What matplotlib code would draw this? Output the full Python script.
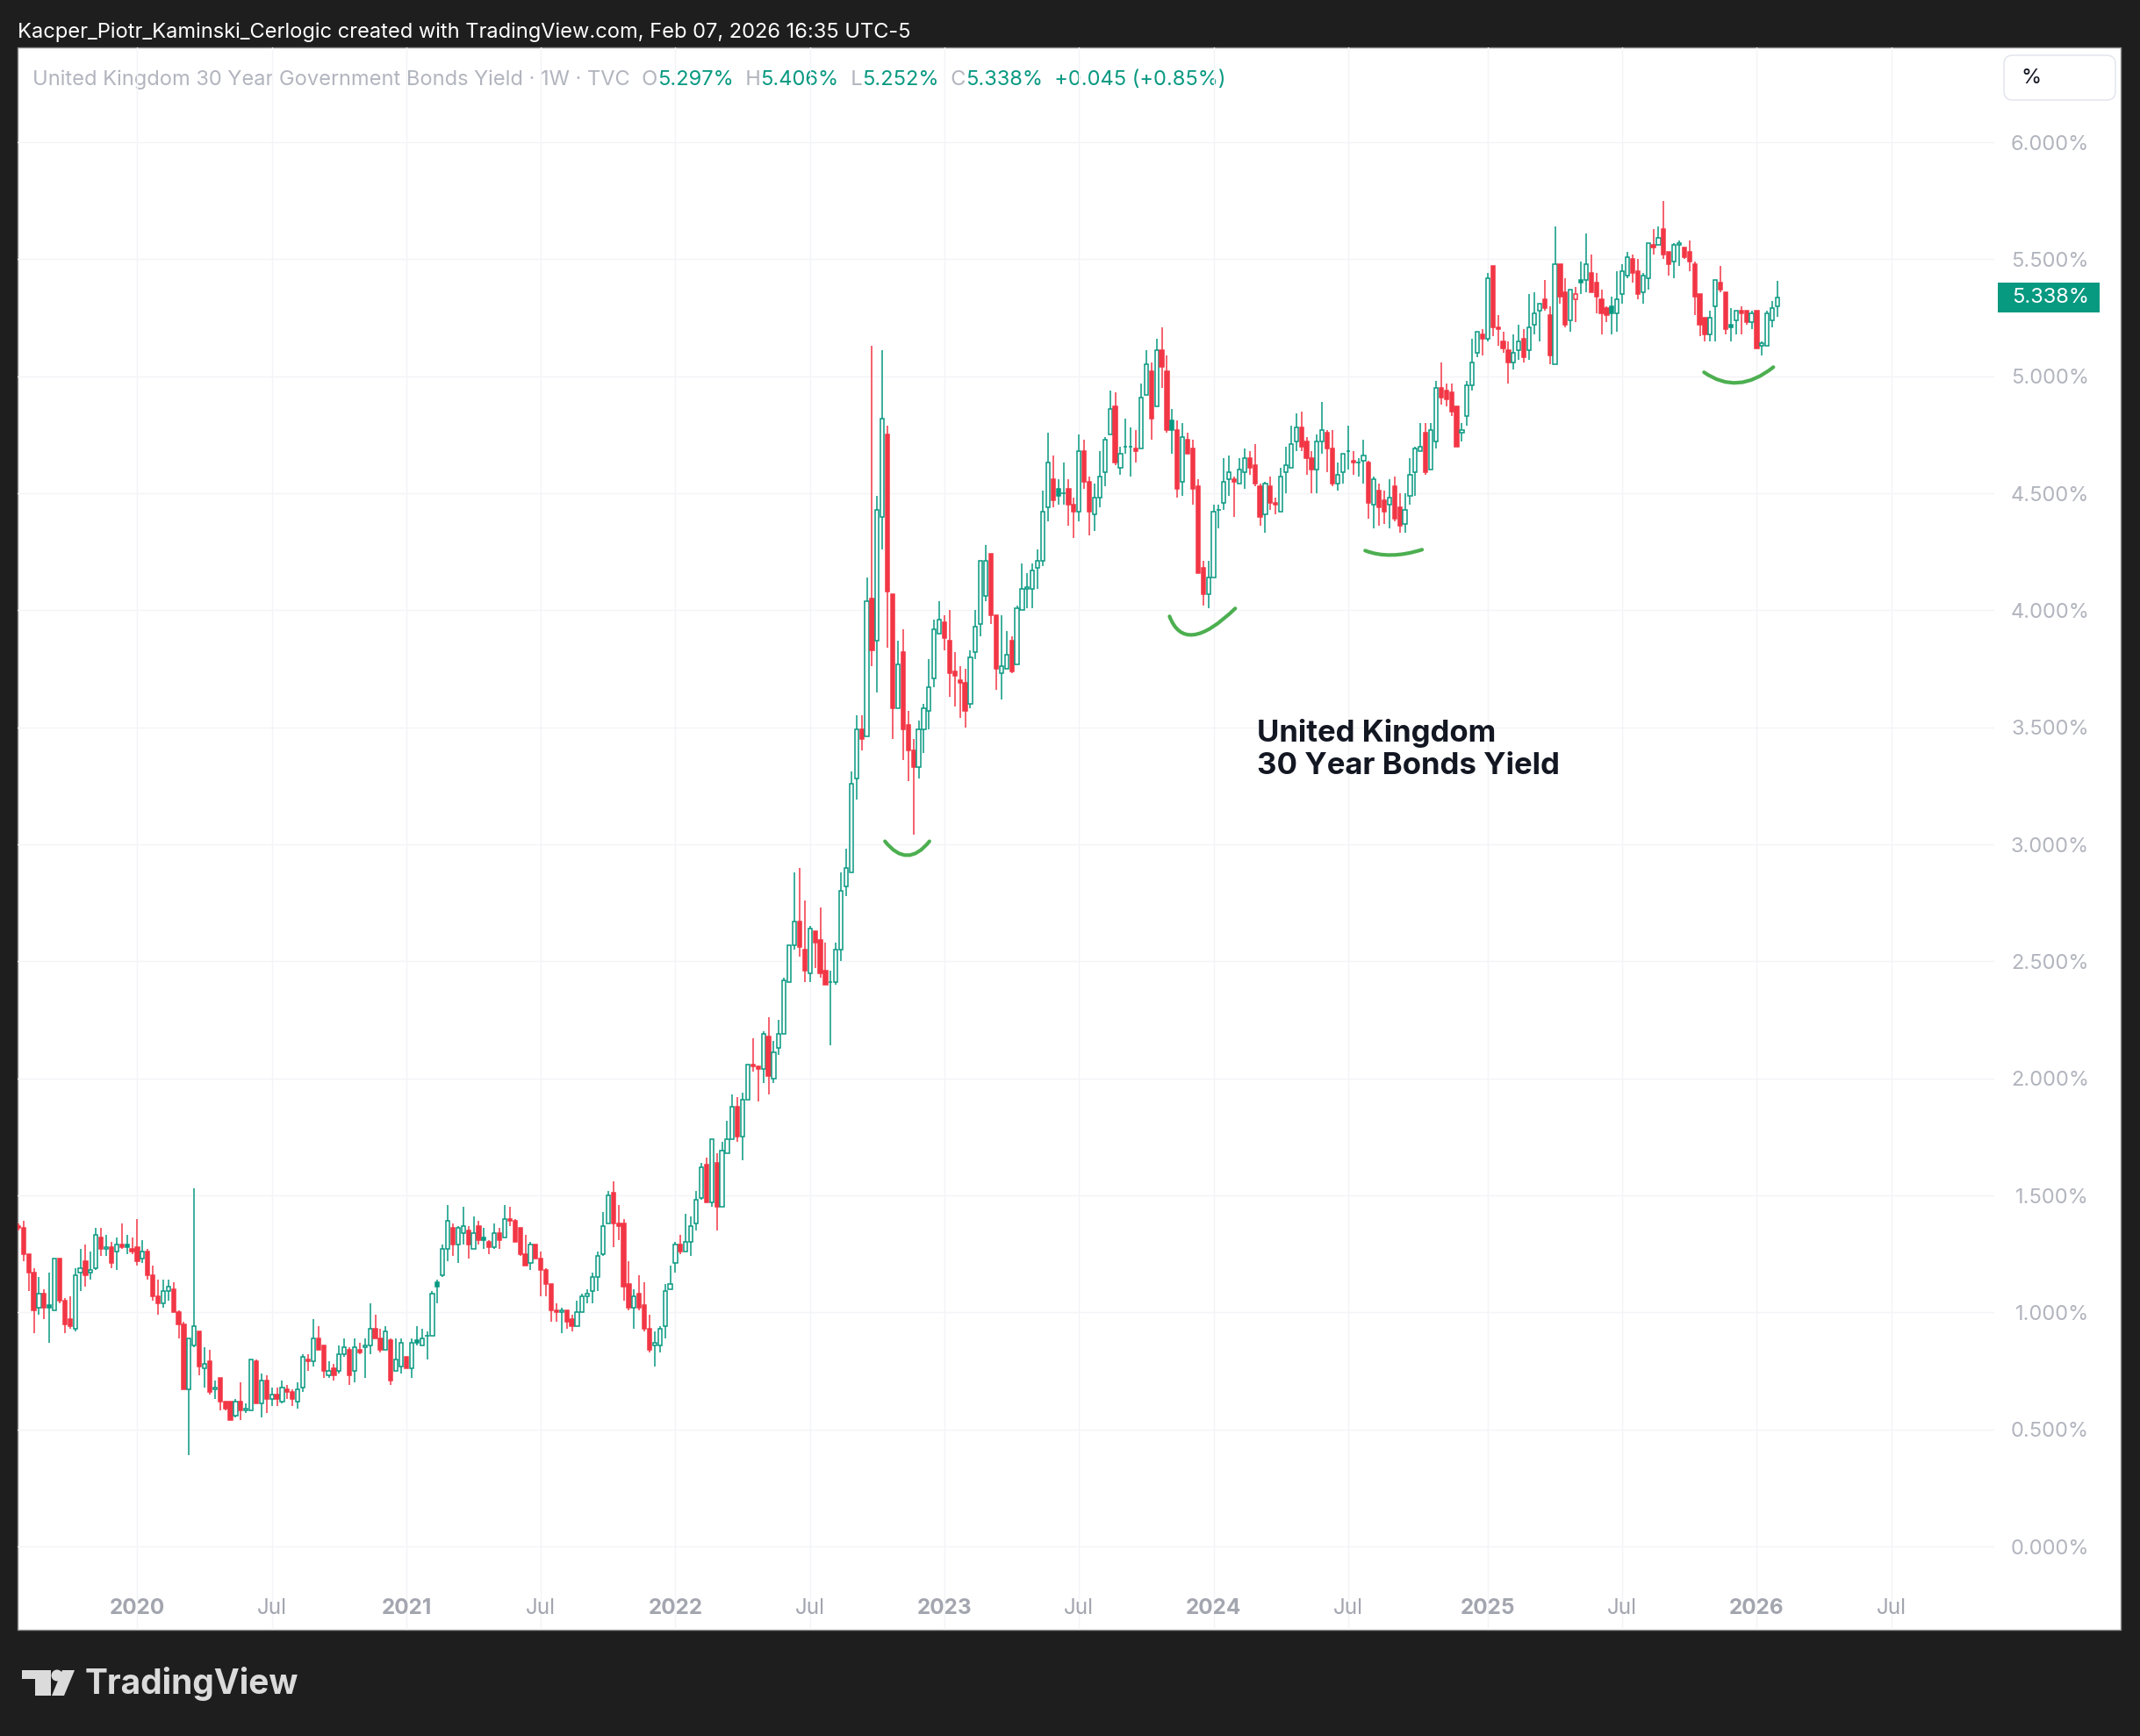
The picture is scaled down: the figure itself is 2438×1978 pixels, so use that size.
import matplotlib
matplotlib.use("Agg")
import matplotlib.pyplot as plt
import matplotlib.dates as mdates
from matplotlib.patches import Rectangle, FancyBboxPatch, Circle, Polygon, PathPatch
from matplotlib.path import Path
import numpy as np

plt.rcParams['font.family'] = ['Inter', 'DejaVu Sans']

# weekly candles, UK 30Y gilt yield (%), first bar = week of 2019-07-29
first_week = "2019-07-29"

opens = [
    1.37, 1.36, 1.25, 1.17, 1.02, 1.08, 1.03, 1.01, 1.23, 1.05,
    0.97, 0.93, 1.17, 1.22, 1.17, 1.19, 1.32, 1.27, 1.28, 1.26,
    1.29, 1.29, 1.27, 1.28, 1.23, 1.26, 1.16, 1.07, 1.04, 1.09,
    1.10, 1.00, 0.95, 0.67, 0.86, 0.92, 0.76, 0.79, 0.67, 0.72,
    0.62, 0.62, 0.56, 0.62, 0.58, 0.58, 0.79, 0.61, 0.71, 0.63,
    0.65, 0.62, 0.67, 0.66, 0.62, 0.68, 0.80, 0.79, 0.89, 0.86,
    0.73, 0.76, 0.75, 0.82, 0.84, 0.75, 0.84, 0.85, 0.86, 0.93,
    0.89, 0.84, 0.88, 0.75, 0.77, 0.81, 0.76, 0.88, 0.86, 0.90,
    0.90, 1.13, 1.16, 1.27, 1.36, 1.29, 1.34, 1.35, 1.27, 1.37,
    1.32, 1.30, 1.28, 1.34, 1.32, 1.40, 1.39, 1.36, 1.25, 1.21,
    1.29, 1.23, 1.18, 1.12, 1.01, 1.00, 1.01, 0.97, 0.94, 1.00,
    1.07, 1.09, 1.15, 1.25, 1.38, 1.51, 1.38, 1.38, 1.12, 1.02,
    1.08, 1.03, 0.93, 0.86, 0.86, 0.94, 1.10, 1.21, 1.29, 1.26,
    1.30, 1.38, 1.49, 1.63, 1.47, 1.64, 1.45, 1.68, 1.74, 1.88,
    1.75, 1.91, 2.06, 2.05, 2.04, 2.18, 2.00, 2.13, 2.19, 2.41,
    2.57, 2.67, 2.55, 2.45, 2.63, 2.59, 2.46, 2.41, 2.41, 2.55,
    2.82, 2.88, 3.28, 3.49, 3.46, 4.05, 3.87, 4.40, 4.75, 4.07,
    3.58, 3.82, 3.51, 3.40, 3.33, 3.49, 3.57, 3.71, 3.90, 3.95,
    3.87, 3.74, 3.70, 3.69, 3.60, 3.82, 3.94, 4.06, 4.24, 3.98,
    3.73, 3.75, 3.87, 3.77, 4.00, 4.09, 4.09, 4.18, 4.21, 4.44,
    4.56, 4.52, 4.50, 4.52, 4.45, 4.42, 4.68, 4.55, 4.41, 4.48,
    4.59, 4.75, 4.87, 4.61, 4.70, 4.70, 4.69, 4.69, 4.92, 5.02,
    4.87, 5.11, 5.02, 4.81, 4.77, 4.55, 4.73, 4.69, 4.53, 4.18,
    4.07, 4.14, 4.43, 4.46, 4.56, 4.56, 4.54, 4.59, 4.65, 4.62,
    4.53, 4.41, 4.53, 4.46, 4.42, 4.59, 4.61, 4.72, 4.78, 4.72,
    4.65, 4.60, 4.72, 4.76, 4.69, 4.54, 4.59, 4.68, 4.64, 4.63,
    4.64, 4.63, 4.45, 4.51, 4.47, 4.45, 4.53, 4.44, 4.37, 4.49,
    4.59, 4.68, 4.76, 4.60, 4.72, 4.95, 4.94, 4.93, 4.87, 4.76,
    4.83, 4.96, 5.10, 5.18, 5.16, 5.47, 5.21, 5.15, 5.11, 5.06,
    5.11, 5.16, 5.11, 5.22, 5.28, 5.33, 5.26, 5.05, 5.48, 5.36,
    5.24, 5.33, 5.41, 5.41, 5.44, 5.40, 5.33, 5.29, 5.30, 5.27,
    5.35, 5.43, 5.50, 5.45, 5.36, 5.42, 5.56, 5.56, 5.63, 5.53,
    5.49, 5.56, 5.55, 5.53, 5.48, 5.35, 5.25, 5.18, 5.30, 5.40,
    5.36, 5.22, 5.24, 5.28, 5.28, 5.23, 5.28, 5.13, 5.13, 5.24,
    5.297,
]
highs = [
    1.38, 1.39, 1.25, 1.19, 1.15, 1.10, 1.17, 1.23, 1.23, 1.06,
    1.07, 1.19, 1.27, 1.29, 1.26, 1.36, 1.36, 1.33, 1.30, 1.32,
    1.38, 1.33, 1.32, 1.40, 1.31, 1.27, 1.20, 1.14, 1.14, 1.14,
    1.13, 1.01, 0.96, 0.89, 1.53, 0.92, 0.85, 0.84, 0.71, 0.72,
    0.62, 0.62, 0.63, 0.70, 0.61, 0.80, 0.80, 0.74, 0.73, 0.68,
    0.68, 0.71, 0.69, 0.67, 0.70, 0.82, 0.82, 0.97, 0.94, 0.86,
    0.79, 0.78, 0.86, 0.89, 0.85, 0.89, 0.87, 0.89, 1.04, 0.99,
    0.93, 0.94, 0.89, 0.89, 0.89, 0.81, 0.89, 0.94, 0.93, 0.92,
    1.09, 1.14, 1.29, 1.46, 1.38, 1.37, 1.45, 1.37, 1.41, 1.39,
    1.36, 1.31, 1.38, 1.36, 1.46, 1.45, 1.40, 1.36, 1.33, 1.30,
    1.29, 1.26, 1.19, 1.12, 1.04, 1.02, 1.01, 0.99, 1.05, 1.08,
    1.10, 1.17, 1.26, 1.43, 1.52, 1.56, 1.46, 1.40, 1.22, 1.10,
    1.16, 1.13, 0.99, 0.92, 0.94, 1.12, 1.20, 1.30, 1.33, 1.42,
    1.41, 1.52, 1.64, 1.66, 1.74, 1.68, 1.73, 1.82, 1.93, 1.92,
    1.94, 2.06, 2.17, 2.05, 2.20, 2.26, 2.16, 2.25, 2.43, 2.57,
    2.88, 2.90, 2.76, 2.65, 2.63, 2.73, 2.58, 2.46, 2.58, 2.88,
    2.98, 3.31, 3.55, 3.55, 4.14, 5.13, 4.49, 5.11, 4.79, 4.07,
    3.87, 3.92, 3.57, 3.45, 3.53, 3.60, 3.79, 3.96, 4.04, 3.98,
    4.00, 3.82, 3.76, 3.75, 3.83, 4.00, 4.21, 4.28, 4.24, 3.98,
    3.98, 3.91, 3.89, 4.02, 4.20, 4.16, 4.20, 4.26, 4.51, 4.76,
    4.66, 4.56, 4.63, 4.56, 4.48, 4.75, 4.73, 4.57, 4.54, 4.68,
    4.74, 4.94, 4.93, 4.70, 4.82, 4.78, 4.77, 4.97, 5.11, 5.06,
    5.16, 5.21, 5.09, 4.86, 4.81, 4.80, 4.76, 4.73, 4.56, 4.21,
    4.21, 4.45, 4.45, 4.65, 4.66, 4.57, 4.65, 4.69, 4.68, 4.71,
    4.54, 4.55, 4.57, 4.48, 4.61, 4.70, 4.79, 4.84, 4.85, 4.74,
    4.68, 4.75, 4.89, 4.77, 4.77, 4.63, 4.67, 4.79, 4.68, 4.65,
    4.73, 4.64, 4.57, 4.54, 4.51, 4.56, 4.57, 4.50, 4.50, 4.65,
    4.70, 4.80, 4.80, 4.80, 4.98, 5.06, 4.97, 4.97, 4.87, 4.80,
    4.98, 5.16, 5.19, 5.20, 5.44, 5.47, 5.26, 5.19, 5.15, 5.18,
    5.22, 5.20, 5.35, 5.36, 5.31, 5.41, 5.30, 5.64, 5.48, 5.42,
    5.37, 5.38, 5.49, 5.61, 5.52, 5.44, 5.37, 5.30, 5.34, 5.45,
    5.48, 5.53, 5.52, 5.50, 5.44, 5.57, 5.63, 5.64, 5.75, 5.53,
    5.57, 5.58, 5.55, 5.58, 5.49, 5.35, 5.25, 5.28, 5.41, 5.47,
    5.36, 5.29, 5.28, 5.30, 5.28, 5.28, 5.28, 5.15, 5.28, 5.32,
    5.406,
]
lows = [
    1.35, 1.22, 1.09, 0.91, 0.99, 0.97, 0.87, 1.01, 1.04, 0.91,
    0.93, 0.92, 1.09, 1.11, 1.14, 1.18, 1.24, 1.24, 1.19, 1.18,
    1.27, 1.25, 1.25, 1.20, 1.21, 1.14, 1.05, 0.99, 1.02, 1.05,
    1.00, 0.89, 0.67, 0.39, 0.85, 0.73, 0.68, 0.65, 0.63, 0.58,
    0.58, 0.54, 0.55, 0.54, 0.57, 0.58, 0.61, 0.55, 0.57, 0.60,
    0.60, 0.61, 0.63, 0.60, 0.59, 0.66, 0.75, 0.77, 0.84, 0.72,
    0.72, 0.71, 0.74, 0.81, 0.69, 0.70, 0.82, 0.72, 0.82, 0.89,
    0.83, 0.84, 0.69, 0.75, 0.74, 0.76, 0.72, 0.86, 0.86, 0.80,
    0.90, 1.04, 1.15, 1.22, 1.24, 1.21, 1.29, 1.23, 1.27, 1.29,
    1.27, 1.25, 1.27, 1.27, 1.32, 1.37, 1.30, 1.24, 1.20, 1.18,
    1.23, 1.07, 1.07, 0.96, 0.96, 0.91, 0.93, 0.92, 0.94, 1.00,
    1.04, 1.04, 1.09, 1.24, 1.38, 1.28, 1.31, 1.05, 1.01, 0.93,
    1.01, 0.92, 0.83, 0.77, 0.83, 0.89, 1.10, 1.17, 1.25, 1.26,
    1.24, 1.35, 1.48, 1.47, 1.45, 1.35, 1.45, 1.68, 1.74, 1.73,
    1.65, 1.91, 2.03, 1.90, 1.98, 1.93, 1.98, 2.10, 2.19, 2.41,
    2.55, 2.52, 2.41, 2.41, 2.47, 2.43, 2.40, 2.14, 2.40, 2.50,
    2.78, 2.88, 3.19, 3.40, 3.46, 3.76, 3.65, 4.26, 3.84, 3.45,
    3.58, 3.36, 3.27, 3.04, 3.28, 3.39, 3.49, 3.67, 3.90, 3.83,
    3.63, 3.59, 3.54, 3.50, 3.58, 3.79, 3.89, 4.04, 3.94, 3.66,
    3.62, 3.75, 3.73, 3.77, 4.00, 4.01, 4.01, 4.09, 4.19, 4.38,
    4.44, 4.45, 4.45, 4.36, 4.31, 4.38, 4.52, 4.32, 4.34, 4.44,
    4.53, 4.75, 4.62, 4.58, 4.67, 4.57, 4.63, 4.69, 4.92, 4.73,
    4.87, 4.95, 4.76, 4.67, 4.48, 4.49, 4.67, 4.45, 4.16, 4.02,
    4.01, 4.14, 4.35, 4.43, 4.49, 4.40, 4.54, 4.52, 4.58, 4.53,
    4.36, 4.33, 4.43, 4.41, 4.42, 4.50, 4.61, 4.68, 4.68, 4.58,
    4.50, 4.50, 4.67, 4.59, 4.53, 4.51, 4.54, 4.60, 4.58, 4.57,
    4.54, 4.39, 4.35, 4.36, 4.37, 4.35, 4.38, 4.33, 4.33, 4.45,
    4.49, 4.68, 4.58, 4.60, 4.69, 4.88, 4.87, 4.83, 4.70, 4.72,
    4.79, 4.94, 5.08, 5.09, 5.15, 5.17, 5.13, 5.10, 4.97, 5.03,
    5.07, 5.06, 5.07, 5.18, 5.15, 5.28, 5.05, 5.05, 5.31, 5.21,
    5.19, 5.23, 5.35, 5.36, 5.36, 5.27, 5.18, 5.23, 5.18, 5.19,
    5.31, 5.42, 5.40, 5.33, 5.31, 5.37, 5.52, 5.56, 5.50, 5.43,
    5.42, 5.47, 5.50, 5.45, 5.26, 5.17, 5.15, 5.15, 5.15, 5.36,
    5.18, 5.15, 5.18, 5.18, 5.22, 5.20, 5.12, 5.09, 5.13, 5.21,
    5.252,
]
closes = [
    1.36, 1.25, 1.17, 1.01, 1.08, 1.02, 1.02, 1.23, 1.05, 0.95,
    0.94, 1.16, 1.19, 1.16, 1.18, 1.33, 1.27, 1.28, 1.21, 1.29,
    1.28, 1.28, 1.26, 1.22, 1.26, 1.16, 1.07, 1.04, 1.09, 1.11,
    1.00, 0.95, 0.67, 0.89, 0.94, 0.77, 0.78, 0.66, 0.68, 0.62,
    0.59, 0.54, 0.62, 0.58, 0.59, 0.80, 0.61, 0.71, 0.63, 0.65,
    0.63, 0.68, 0.66, 0.63, 0.67, 0.81, 0.79, 0.89, 0.84, 0.75,
    0.75, 0.73, 0.82, 0.85, 0.73, 0.85, 0.83, 0.86, 0.93, 0.89,
    0.84, 0.92, 0.71, 0.80, 0.87, 0.76, 0.87, 0.87, 0.89, 0.90,
    1.08, 1.11, 1.27, 1.39, 1.29, 1.36, 1.37, 1.29, 1.34, 1.31,
    1.31, 1.28, 1.34, 1.31, 1.40, 1.39, 1.30, 1.25, 1.20, 1.29,
    1.23, 1.18, 1.12, 1.01, 1.00, 1.01, 0.96, 0.94, 1.00, 1.07,
    1.08, 1.15, 1.24, 1.37, 1.50, 1.38, 1.37, 1.11, 1.02, 1.07,
    1.02, 0.93, 0.84, 0.87, 0.93, 1.09, 1.12, 1.29, 1.26, 1.30,
    1.37, 1.48, 1.62, 1.47, 1.74, 1.45, 1.69, 1.74, 1.88, 1.75,
    1.91, 2.06, 2.05, 2.04, 2.19, 2.01, 2.11, 2.19, 2.42, 2.57,
    2.67, 2.56, 2.46, 2.64, 2.58, 2.45, 2.40, 2.41, 2.55, 2.80,
    2.90, 3.26, 3.49, 3.45, 4.04, 3.83, 4.43, 4.82, 4.08, 3.58,
    3.77, 3.49, 3.40, 3.33, 3.49, 3.58, 3.67, 3.92, 3.96, 3.88,
    3.73, 3.72, 3.69, 3.57, 3.80, 3.93, 4.21, 4.21, 3.98, 3.75,
    3.76, 3.81, 3.74, 4.01, 4.09, 4.10, 4.17, 4.21, 4.42, 4.63,
    4.47, 4.49, 4.50, 4.45, 4.42, 4.68, 4.55, 4.42, 4.48, 4.57,
    4.73, 4.86, 4.63, 4.67, 4.70, 4.70, 4.68, 4.91, 5.05, 4.82,
    5.11, 5.04, 4.77, 4.77, 4.52, 4.74, 4.67, 4.52, 4.16, 4.07,
    4.14, 4.42, 4.43, 4.55, 4.59, 4.55, 4.60, 4.65, 4.61, 4.54,
    4.40, 4.54, 4.46, 4.45, 4.57, 4.62, 4.71, 4.78, 4.70, 4.65,
    4.60, 4.72, 4.77, 4.69, 4.54, 4.58, 4.67, 4.68, 4.63, 4.63,
    4.66, 4.46, 4.56, 4.44, 4.42, 4.48, 4.39, 4.36, 4.43, 4.58,
    4.69, 4.70, 4.59, 4.77, 4.95, 4.91, 4.90, 4.85, 4.70, 4.77,
    4.96, 5.06, 5.19, 5.16, 5.42, 5.21, 5.20, 5.12, 5.06, 5.10,
    5.15, 5.08, 5.21, 5.27, 5.31, 5.29, 5.09, 5.48, 5.34, 5.22,
    5.37, 5.35, 5.40, 5.48, 5.36, 5.34, 5.27, 5.26, 5.27, 5.33,
    5.45, 5.51, 5.44, 5.35, 5.43, 5.57, 5.55, 5.59, 5.52, 5.48,
    5.56, 5.57, 5.51, 5.49, 5.34, 5.22, 5.18, 5.25, 5.41, 5.37,
    5.20, 5.21, 5.28, 5.27, 5.23, 5.27, 5.12, 5.14, 5.27, 5.293,
    5.338,
]

# time scale labels (first weekly bar of each period)
tick_dates = ["2020-01-06", "2020-07-06", "2021-01-04", "2021-07-05", "2022-01-03",
              "2022-07-04", "2023-01-02", "2023-07-03", "2024-01-01", "2024-07-01",
              "2025-01-06", "2025-07-07", "2026-01-05", "2026-07-06"]
tick_labels = ["2020", "Jul", "2021", "Jul", "2022", "Jul", "2023", "Jul",
               "2024", "Jul", "2025", "Jul", "2026", "Jul"]
price_ticks = [0.0, 0.5, 1.0, 1.5, 2.0, 2.5, 3.0, 3.5, 4.0, 4.5, 5.0, 5.5, 6.0]

# hand drawn green "smiles": start / control / end, x in weeks from first bar
arc_weeks = [(167.5, 171.8, 176.1), (222.5, 225.5, 235.2), (260.3, 265.0, 271.3), (325.8, 332.3, 339.2)]
arc_yield = [(3.013, 2.893, 3.013), (3.974, 3.800, 4.008), (4.255, 4.215, 4.259), (5.017, 4.916, 5.039)]

header = "Kacper_Piotr_Kaminski_Cerlogic created with TradingView.com, Feb 07, 2026 16:35 UTC-5"
title = "United Kingdom 30 Year Government Bonds Yield · 1W · TVC"
legend_parts = [("  O", "#b2b5be"), ("5.297%", "#089981"), ("  H", "#b2b5be"), ("5.406%", "#089981"),
                ("  L", "#b2b5be"), ("5.252%", "#089981"), ("  C", "#b2b5be"), ("5.338%", "#089981"),
                ("  +0.045 (+0.85%)", "#089981")]

GREEN = "#089981"
RED = "#f23645"
GREY = "#b2b5be"

W, H = 2438, 1978
fig = plt.figure(figsize=(W / 100, H / 100), dpi=100, facecolor="#1e1e1e")

# background layer in pixel coordinates
bg = fig.add_axes([0, 0, 1, 1], zorder=0)
bg.set_xlim(0, W)
bg.set_ylim(H, 0)
bg.axis("off")
bg.add_patch(Rectangle((20, 54), 2396, 1803, fc="white", ec="#8c8c8c", lw=1))
bg.text(20, 37, header, color="white", fontsize=17, va="center")

t = bg.text(37, 91, title, color=GREY, fontsize=17, va="center")
for s, c in legend_parts:
    t = bg.annotate(s, xy=(1, 0), xycoords=t, va="bottom", ha="left", color=c, fontsize=17)

bg.add_patch(FancyBboxPatch((2283, 63), 127, 51, boxstyle="round,pad=0,rounding_size=10",
                            fc="white", ec="#e0e3eb", lw=1))
bg.text(2302, 89, "%", color="#131722", fontsize=17, va="center")

# TradingView logo
logo = "#dbdbdb"
bg.add_patch(Rectangle((25, 1903), 33, 10, fc=logo, ec="none"))
bg.add_patch(Rectangle((40, 1903), 18, 29, fc=logo, ec="none"))
bg.add_patch(Circle((65, 1909), 6.5, fc=logo, ec="none"))
bg.add_patch(Polygon([(71, 1903), (85, 1903), (73, 1932), (59, 1932)], closed=True, fc=logo, ec="none"))
bg.text(97, 1918, "TradingView", color=logo, fontsize=28, weight="bold", va="center")

# chart pane
ax = fig.add_axes([20 / W, 1 - 1857 / H, (2272 - 20) / W, (1857 - 54) / H], zorder=1)
ax.set_facecolor("none")

o = np.array(opens)
h = np.array(highs)
l = np.array(lows)
c = np.array(closes)
n = len(c)
x = mdates.date2num(np.datetime64(first_week) + np.arange(n) * np.timedelta64(7, "D"))

prev = np.concatenate([[o[0]], c[:-1]])
edge = np.where(c >= prev, GREEN, RED)
face = np.where(c >= o, "white", edge)

ax.vlines(x, l, h, colors=edge, lw=1.1, zorder=2)
ax.bar(x, np.abs(c - o), bottom=np.minimum(o, c), width=5.0, color=face,
       edgecolor=edge, linewidth=1.1, zorder=3)

for wk, yv in zip(arc_weeks, arc_yield):
    px = x[0] + np.array(wk) * 7
    path = Path(list(zip(px, yv)), [Path.MOVETO, Path.CURVE3, Path.CURVE3])
    ax.add_patch(PathPatch(path, fc="none", ec="#4caf50", lw=3, capstyle="round", zorder=4))

# chart note (drawn above the grid)
ax.text(1432, 845, "United Kingdom", transform=bg.transData, color="#131722", fontsize=25,
        weight="bold", va="baseline", zorder=6)
ax.text(1432, 882, "30 Year Bonds Yield", transform=bg.transData, color="#131722", fontsize=25,
        weight="bold", va="baseline", zorder=6)

ax.set_xlim(x[0] - 1, x[0] + 381.9 * 7)
ax.set_ylim(-0.356, 6.405)

tx = mdates.datestr2num(tick_dates)
ax.set_xticks(tx)
ax.set_xticklabels([])
ax.tick_params(axis="x", length=0)
for xv, lab in zip(tx, tick_labels):
    ax.text(xv, 0.0135, lab, transform=ax.get_xaxis_transform(), ha="center", va="center",
            fontsize=17.5, color="#a3a6af", weight="bold" if lab != "Jul" else "normal")

ax.yaxis.tick_right()
ax.set_yticks(price_ticks)
ax.set_yticklabels([f"{v:.3f}%" for v in price_ticks])
ax.tick_params(axis="y", length=0, pad=108 * 0.72, labelsize=17, labelcolor=GREY)
for lbl in ax.get_yticklabels():
    lbl.set_horizontalalignment("right")

ax.grid(True, color="#f3f4f7", lw=1, zorder=0)
for s in ax.spines.values():
    s.set_visible(False)

# last price tag
last = c[-1]
ytr = ax.get_yaxis_transform()
ax.add_patch(Rectangle((1 + 4 / 2252, last - 17 / 266.67), 116 / 2252, 34 / 266.67,
                       transform=ytr, fc=GREEN, ec="none", clip_on=False, zorder=5))
ax.text(1 + 108 / 2252, last, f"{last:.3f}%", transform=ytr, ha="right", va="center",
        color="white", fontsize=17, zorder=6)

fig.savefig("out.png", dpi=100, facecolor=fig.get_facecolor())
